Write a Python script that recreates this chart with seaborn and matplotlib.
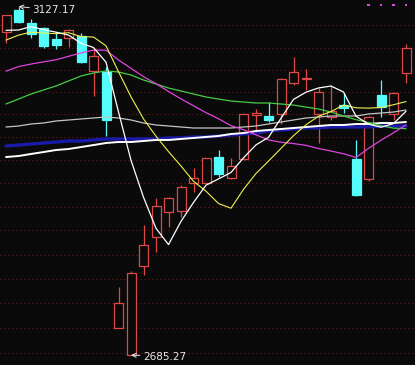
import numpy as np
import pandas as pd
import matplotlib
matplotlib.use("Agg")
import matplotlib.pyplot as plt
from matplotlib.ticker import NullLocator
import seaborn as sns

# ---------------- data (SSE Composite, daily) ----------------
dates = ["01-13", "01-14", "01-15", "01-16", "01-17", "01-20", "01-21", "01-22", "01-23",
         "02-03", "02-04", "02-05", "02-06", "02-07", "02-10", "02-11", "02-12", "02-13",
         "02-14", "02-17", "02-18", "02-19", "02-20", "02-21", "02-24", "02-25", "02-26",
         "02-27", "02-28", "03-02", "03-03", "03-04", "03-05"]

opens = [3092.6, 3122.5, 3104.8, 3098.0, 3083.1, 3084.5, 3087.2, 3040.4, 3039.0,
         2716.70, 2685.27, 2792.2, 2827.1, 2859.0, 2860.2, 2894.6, 2895.4, 2928.6,
         2901.0, 2925.2, 2982.4, 2981.0, 2983.7, 3024.0, 3029.3, 2983.7, 2979.4,
         2995.0, 2925.6, 2899.7, 3008.6, 2983.7, 3037.3]
closes = [3115.57, 3106.82, 3090.04, 3074.08, 3075.50, 3095.79, 3052.14, 3060.75, 2976.53,
          2746.61, 2783.29, 2818.09, 2866.51, 2875.96, 2890.49, 2901.67, 2926.90, 2906.07,
          2917.01, 2983.62, 2984.97, 2975.40, 3030.15, 3039.67, 3031.23, 3013.05, 2987.93,
          2991.33, 2880.30, 2980.0, 2992.90, 3011.67, 3071.68]
highs = [3116.0, 3127.17, 3110.3, 3099.0, 3092.6, 3096.2, 3091.3, 3071.1, 3045.7,
         2766.7, 2785.8, 2842.3, 2875.7, 2877.0, 2892.0, 2913.7, 2927.5, 2937.1,
         2926.5, 2984.5, 2989.8, 2999.0, 3031.0, 3058.6, 3042.6, 3018.2, 3021.8,
         3011.0, 2950.0, 2981.0, 3028.4, 3012.5, 3076.4]
lows = [3077.8, 3104.5, 3084.5, 3070.5, 3069.7, 3072.4, 3050.5, 3007.3, 2955.35,
        2716.70, 2685.27, 2780.9, 2809.4, 2840.4, 2852.7, 2884.3, 2894.5, 2903.0,
        2900.0, 2924.0, 2962.0, 2973.7, 2970.7, 3021.8, 3015.2, 2945.7, 2975.9,
        2984.5, 2879.0, 2898.0, 2979.4, 2975.9, 3024.8]

ma5 = [3094.9, 3095.3, 3099.9, 3095.8, 3092.4, 3088.5, 3077.5, 3071.7, 3052.1,
       2986.4, 2923.9, 2877.1, 2838.2, 2818.1, 2846.9, 2870.5, 2892.3, 2900.2,
       2908.4, 2927.1, 2943.7, 2953.4, 2978.2, 3002.8, 3012.3, 3017.9, 3020.4,
       3012.6, 2980.8, 2970.5, 2966.5, 2971.2, 2987.3]
ma10 = [3081.7, 3088.4, 3092.4, 3091.3, 3090.4, 3091.7, 3086.4, 3085.8, 3074.0,
        3039.4, 3006.2, 2977.3, 2954.9, 2935.1, 2916.6, 2897.2, 2884.7, 2869.2,
        2863.3, 2887.0, 2907.1, 2922.9, 2939.2, 2955.6, 2969.7, 2980.8, 2986.9,
        2995.4, 2991.8, 2991.4, 2992.2, 2995.8, 3000.0]
ma20 = [3040.1, 3046.2, 3049.6, 3052.5, 3055.4, 3059.9, 3064.4, 3068.3, 3068.1,
        3055.0, 3043.9, 3032.8, 3023.6, 3013.2, 3003.5, 2994.4, 2985.5, 2977.5,
        2968.6, 2963.2, 2956.6, 2950.1, 2947.1, 2945.4, 2943.1, 2939.0, 2935.8,
        2932.3, 2927.5, 2939.2, 2949.7, 2959.3, 2969.6]
ma30 = [2996.8, 3003.3, 3009.9, 3015.2, 3020.5, 3027.1, 3033.7, 3037.7, 3040.4,
        3039.0, 3035.0, 3028.4, 3023.1, 3017.8, 3013.9, 3009.9, 3006.0, 3003.3,
        3000.7, 2999.4, 2998.1, 2998.1, 2996.8, 2995.4, 2992.8, 2990.2, 2986.3,
        2981.1, 2976.3, 2972.6, 2968.5, 2965.3, 2964.7]
ma60 = [2966.8, 2968.1, 2970.7, 2972.0, 2974.6, 2975.9, 2977.2, 2978.5, 2979.8,
        2978.5, 2975.9, 2972.0, 2969.4, 2968.1, 2966.8, 2965.5, 2965.5, 2965.5,
        2965.5, 2966.8, 2968.1, 2970.7, 2973.3, 2975.9, 2978.5, 2979.8, 2981.1,
        2981.1, 2981.1, 2983.7, 2985.0, 2986.3, 2988.9]
ma120 = [2942.3, 2943.5, 2944.8, 2946.1, 2947.4, 2948.7, 2948.7, 2950.0, 2951.3,
         2951.3, 2951.3, 2951.3, 2951.3, 2952.6, 2952.6, 2953.9, 2953.9, 2955.2,
         2956.4, 2957.7, 2959.0, 2961.6, 2962.9, 2964.2, 2965.5, 2965.5, 2966.8,
         2966.8, 2966.8, 2966.8, 2968.1, 2968.1, 2968.1]
ma250 = [2928.1, 2929.4, 2932.0, 2934.5, 2937.1, 2938.4, 2940.9, 2943.5, 2946.1,
         2947.4, 2947.4, 2948.7, 2950.0, 2950.0, 2951.3, 2952.6, 2953.9, 2955.2,
         2957.7, 2959.0, 2961.6, 2962.9, 2964.2, 2965.5, 2966.8, 2968.1, 2969.4,
         2969.4, 2970.7, 2970.7, 2972.0, 2972.0, 2973.3]

grid_levels = [2687.6, 2717.2, 2747.0, 2776.0, 2805.3, 2836.1, 2864.8, 2895.0,
               2924.3, 2953.9, 2983.4, 3013.0, 3041.7, 3071.5, 3102.1]

signal_idx = [29, 30, 31, 32]
signal_level = 3129.3

high_label = "3127.17"
low_label = "2685.27"

# ---------------- style ----------------
sns.set_theme(style="dark")
plt.rcParams['font.family'] = ['DejaVu Sans']

bg = '#0a0a0a'
red = '#e04848'
cyan = '#54fcfc'

fig = plt.figure(figsize=(4.15, 3.65), dpi=100)
fig.patch.set_facecolor(bg)
ax = fig.add_axes([0, 0, 1, 1])
ax.set_facecolor(bg)
ax.set_yscale('log')
ax.grid(False)

n = len(closes)
idx = np.arange(n)
df = pd.DataFrame({"date": dates, "i": idx, "open": opens, "close": closes,
                   "high": highs, "low": lows})

# grid lines
for g in grid_levels:
    ax.axhline(g, color='#8a1414', lw=0.72, dashes=(1, 3), zorder=1)

# candles
up = df["close"] >= df["open"]
wick_colors = [red if u else cyan for u in up]
ax.vlines(df["i"], df["low"], df["high"], colors=wick_colors, lw=0.9, zorder=2)
body_bottom = np.minimum(df["open"], df["close"])
body_height = np.abs(df["close"] - df["open"])
ax.bar(df["i"], body_height, bottom=body_bottom, width=0.72,
       color=[bg if u else cyan for u in up],
       edgecolor=[red if u else cyan for u in up], linewidth=0.9, zorder=3)

# moving averages
lines = [
    (ma120, '#1a1aa8', 2.4),
    (ma250, '#ffffff', 1.4),
    (ma60, '#c4c4c4', 0.9),
    (ma30, '#44cc44', 0.9),
    (ma20, '#dd44dd', 0.9),
    (ma10, '#f0f050', 0.8),
    (ma5, '#ffffff', 0.9),
]
for k, (vals, col, lw) in enumerate(lines):
    sns.lineplot(x=idx, y=vals, ax=ax, color=col, linewidth=lw,
                 estimator=None, sort=False, zorder=5 + k)

# signal markers at the top
sns.scatterplot(x=signal_idx, y=[signal_level] * len(signal_idx), ax=ax,
                marker='s', s=3.5, color='#dd44dd', edgecolor='none', zorder=20)

# high / low annotations
txt_col = '#e8e8e8'
hi_i = int(np.argmax(highs))
lo_i = int(np.argmin(lows))
ax.annotate(high_label, xy=(hi_i, highs[hi_i]), xytext=(14, -3.5),
            textcoords='offset pixels', color=txt_col, fontsize=7.5,
            ha='left', va='center', zorder=30,
            arrowprops=dict(arrowstyle='->', color=txt_col, lw=0.7,
                            shrinkA=0, shrinkB=0))
ax.annotate(low_label, xy=(lo_i, lows[lo_i]), xytext=(12, -1.5),
            textcoords='offset pixels', color=txt_col, fontsize=7.5,
            ha='left', va='center', zorder=30,
            arrowprops=dict(arrowstyle='->', color=txt_col, lw=0.7,
                            shrinkA=0, shrinkB=0))

ax.set_xlim(-0.48, 32.72)
ax.set_ylim(2673.6, 3136.2)
ax.yaxis.set_minor_locator(NullLocator())
ax.set_xticks([])
ax.set_yticks([])
ax.set_xlabel("")
ax.set_ylabel("")
for s in ax.spines.values():
    s.set_visible(False)

fig.savefig("out.png", dpi=100, facecolor=bg)
